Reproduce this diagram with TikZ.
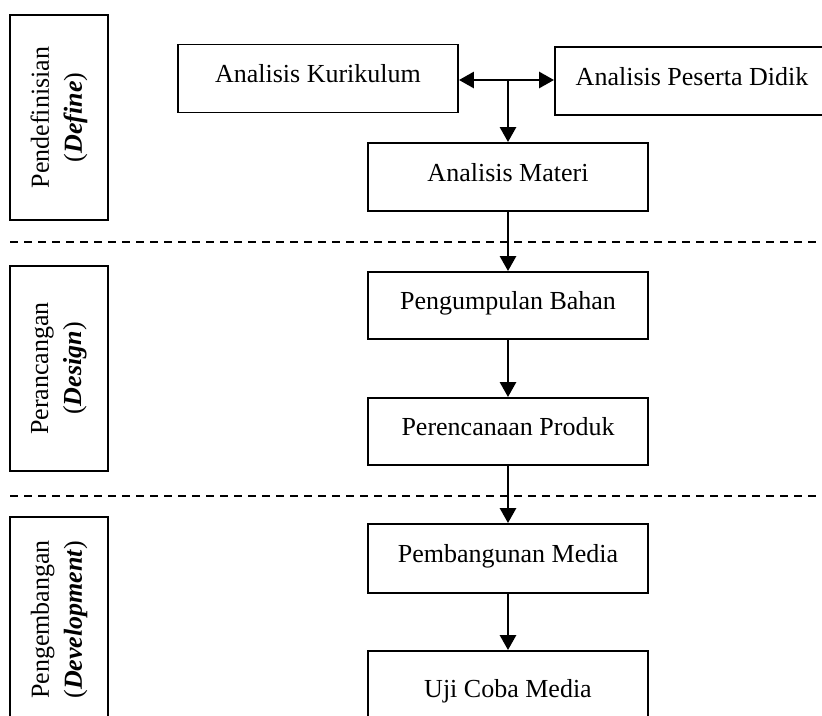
\documentclass[tikz,border=0pt]{standalone}
\usepackage{fontspec}
\setmainfont{Liberation Serif}
\usetikzlibrary{positioning,calc}
\usetikzlibrary{arrows.meta}
\tikzset{
	box/.style={draw=black,line width=1.9pt,minimum width=280pt,minimum height=68pt,
		text height=16pt,text depth=8pt,inner sep=0pt,font=\fontsize{26}{30}\selectfont},
	phase/.style={draw=black,line width=1.9pt,rotate=90,minimum width=205pt,minimum height=98pt,
		align=center,inner sep=0pt,font=\fontsize{26}{33}\selectfont},
	flow/.style={draw=black,line width=2.8pt},
	sep/.style={draw=black,line width=1.9pt,dash pattern=on 8pt off 6pt},
}

\begin{document}
\begin{tikzpicture}[>={Triangle[length=15pt,width=16pt]},x=1pt,y=-1pt]
					\useasboundingbox (0,0) rectangle (822,715);
					\clip (0,0) rectangle (822,715);
					% phases
					\node[phase] (define) at (59,117.5) {Pendefinisian\\(\textbf{\textit{Define}})};
					\node[phase] (design) at (59,368.5) {Perancangan\\(\textbf{\textit{Design}})};
					\node[phase] (develop) at (59,619.5) {Pengembangan\\(\textbf{\textit{Development}})};
					% steps
					\node[box] (kurikulum) at (318,78.5) {Analisis Kurikulum};
					\node[box,minimum width=274pt] (siswa) at (692,81) {Analisis Peserta Didik};
					\node[box] (materi) at (508,177) {Analisis Materi};
					\node[box,minimum height=67pt] (bahan) at (508,305.5) {Pengumpulan Bahan};
					\node[box,minimum height=67pt] (produk) at (508,431.5) {Perencanaan Produk};
					\node[box,minimum height=69pt] (media) at (508,558.5) {Pembangunan Media};
					\node[box,minimum height=84pt] (uji) at (508,693) {Uji Coba Media};
					% separators
					\coordinate (s1a) at (10,242);
					\coordinate (s1b) at (822,242);
					\coordinate (s2a) at (10,496);
					\coordinate (s2b) at (822,496);
					\draw[sep] (s1a)--(s1b);
					\draw[sep] (s2a)--(s2b);
					% arrows
					\coordinate (junc) at (materi.north |- 0,80);
					\draw[flow,<->] (kurikulum.east |- junc)--(siswa.west |- junc);
					\draw[flow,->] (junc)--(materi.north);
					\draw[flow,->] (materi)--(bahan);
					\draw[flow,->] (bahan)--(produk);
					\draw[flow,->] (produk)--(media);
					\draw[flow,->] (media)--(uji);
				\end{tikzpicture}
\end{document}
